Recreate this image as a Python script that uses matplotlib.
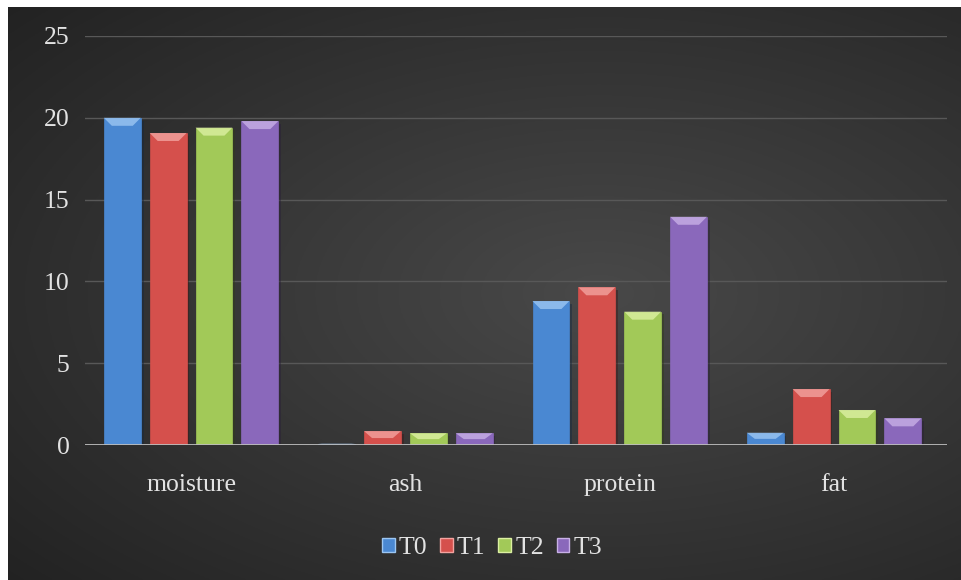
import matplotlib.pyplot as plt
import matplotlib.patheffects as pe
from matplotlib.patches import Polygon, Patch
import numpy as np

# data
categories = ['moisture', 'ash', 'protein', 'fat']
series = ['T0', 'T1', 'T2', 'T3']
t0 = [20.0, 0.08, 8.8, 0.75]
t1 = [19.07, 0.85, 9.64, 3.42]
t2 = [19.4, 0.72, 8.15, 2.14]
t3 = [19.8, 0.72, 13.95, 1.63]
values = [t0, t1, t2, t3]
colors = ['#4a88d2', '#d5504c', '#a2c958', '#8a68bb']
light = ['#9cc6f2', '#f2a3a0', '#dcf0a2', '#c8b0e6']
yticks = [0, 5, 10, 15, 20, 25]

plt.rcParams['font.family'] = ['Liberation Serif', 'DejaVu Serif']
txt = '#e2e2e2'

fig = plt.figure(figsize=(9.62, 5.80), dpi=100)
fig.patch.set_facecolor('white')

# dark gradient backdrop
bg = fig.add_axes([8 / 962, 0, 1 - 8 / 962, 1 - 7 / 580])
bg.set_axis_off()
yy, xx = np.mgrid[0:1:300j, 0:1:500j]
r = np.sqrt(((xx - 0.62) / 1.0) ** 2 + ((yy - 0.5) / 0.9) ** 2)
shade = np.clip(0.285 - 0.18 * r, 0.12, 0.3)
bg.imshow(np.dstack([shade] * 3), aspect='auto', extent=[0, 1, 0, 1], origin='upper')

ax = fig.add_axes([85 / 962, 135 / 580, 862 / 962, 409 / 580])
ax.patch.set_alpha(0)
for s in ax.spines.values():
    s.set_visible(False)

x = np.arange(len(categories))
width = 0.172
step = 0.214
ax.set_xlim(-0.495, 3.527)
ax.set_ylim(0, 25)
ax.set_yticks(yticks)
ax.yaxis.grid(True, color='#585858', linewidth=1)
ax.set_axisbelow(True)

px_y = 25 / 409
px_x = 1 / 214.3
for i, (vals, c, lc) in enumerate(zip(values, colors, light)):
    xs = x + (i - 1.5) * step
    bars = ax.bar(xs, vals, width, color=c, edgecolor=c, linewidth=0.5, zorder=3)
    for b in bars:
        b.set_path_effects([pe.SimplePatchShadow(offset=(2, -2), alpha=0.45), pe.Normal()])
    # bevelled top face
    for xc, v in zip(xs, vals):
        h = min(8 * px_y, v / 2)
        x0, x1 = xc - width / 2, xc + width / 2
        cap = Polygon([(x0, v), (x1, v), (x1 - 8 * px_x, v - h), (x0 + 8 * px_x, v - h)],
                      closed=True, facecolor=lc, edgecolor='none', alpha=0.8, zorder=4)
        ax.add_patch(cap)

ax.axhline(0, color='#bdbdbd', linewidth=2, zorder=5)
ax.set_xticks(x)
ax.set_xticklabels(categories)
ax.tick_params(axis='both', length=0, colors=txt, labelsize=18.5)
ax.tick_params(axis='x', pad=21)
ax.tick_params(axis='y', pad=11)

handles = [Patch(facecolor=c, edgecolor=lc, linewidth=1) for c, lc in zip(colors, light)]
fig.legend(handles, series, loc='center', bbox_to_anchor=(492 / 962, 1 - 548 / 580),
           ncol=4, frameon=False, fontsize=18.5, labelcolor=txt,
           handlelength=0.5, handleheight=0.5, handletextpad=0.15, columnspacing=0.5)

fig.savefig('out.png', dpi=100)
